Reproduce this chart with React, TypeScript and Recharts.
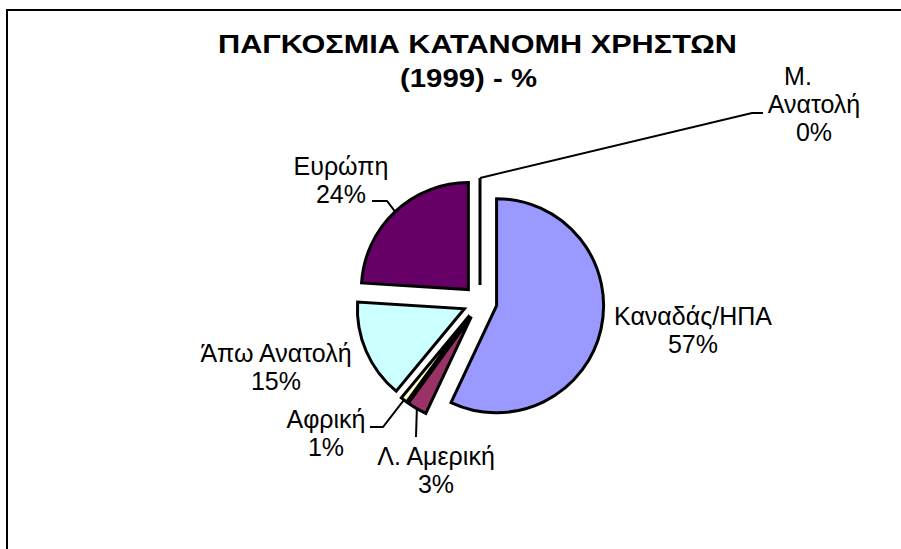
import React from "react";
import { Pie, PieChart, Sector } from "recharts";

// slices in the order Excel draws them, clockwise from 12 o'clock
const regions = ["Καναδάς/ΗΠΑ", "Λ. Αμερική", "Αφρική", "Άπω Ανατολή", "Ευρώπη", "Μ. Ανατολή"];
const shares = [57, 3, 1, 15, 24, 0];
const sliceColors = ["#9999FF", "#993366", "#FFFFCC", "#CCFFFF", "#660066", "#FF8080"];
const labelLines = [["Καναδάς/ΗΠΑ"], ["Λ. Αμερική"], ["Αφρική"], ["Άπω Ανατολή"], ["Ευρώπη"], ["Μ.", "Ανατολή"]];
const titleLines = ["ΠΑΓΚΟΣΜΙΑ ΚΑΤΑΝΟΜΗ ΧΡΗΣΤΩΝ", "(1999) - %"];

// label placement (centre x, first baseline) and leader elbows, as dragged in the original
const labelLayout = [
  { x: 693, y: 325, dx: [0] },
  { x: 436, y: 465, dx: [0] },
  { x: 326, y: 428, dx: [0] },
  { x: 276, y: 362, dx: [0] },
  { x: 341, y: 175, dx: [0] },
  { x: 814, y: 85, dx: [-16, 0] },
];
const leaderElbows: number[][][] = [
  [],
  [[416, 437]],
  [[383, 427], [370, 427]],
  [],
  [[387, 201], [372, 201]],
  [[752, 113], [763, 113]],
];

const RADIAN = Math.PI / 180;
const EXPLODE = 17;
const FONT = "'Liberation Sans', Arial, sans-serif";
const LINE_GAP = 28;

const data = regions.map((name, i) => ({ name, value: shares[i], fill: sliceColors[i] }));

function offset(midAngle: number, r: number) {
  return { x: r * Math.cos(-midAngle * RADIAN), y: r * Math.sin(-midAngle * RADIAN) };
}

function ExplodedSlice(props: any) {
  const { cx, cy, innerRadius, outerRadius, startAngle, endAngle, midAngle, fill } = props;
  const d = offset(midAngle, EXPLODE);
  const ox = cx + d.x;
  const oy = cy + d.y;
  if (Math.abs(endAngle - startAngle) < 1e-6) {
    const e = offset(midAngle, outerRadius);
    return <line x1={ox} y1={oy} x2={ox + e.x} y2={oy + e.y} stroke="#000" strokeWidth={3} />;
  }
  return (
    <Sector
      cx={ox}
      cy={oy}
      innerRadius={innerRadius}
      outerRadius={outerRadius}
      startAngle={startAngle}
      endAngle={endAngle}
      fill={fill}
      stroke="#000"
      strokeWidth={3}
      strokeLinejoin="miter"
    />
  );
}

function SliceLabel(props: any) {
  const { cx, cy, outerRadius, midAngle, index, value } = props;
  const d = offset(midAngle, EXPLODE);
  const e = offset(midAngle, outerRadius);
  const start = [cx + d.x + e.x, cy + d.y + e.y];
  const elbows = leaderElbows[index];
  const pos = labelLayout[index];
  const lines = [...labelLines[index], `${value}%`];
  return (
    <g>
      {elbows.length > 0 && (
        <polyline
          points={[start, ...elbows].map((p) => p.join(",")).join(" ")}
          fill="none"
          stroke="#000"
          strokeWidth={2}
        />
      )}
      {lines.map((t, k) => (
        <text
          key={k}
          x={pos.x + (pos.dx[k] ?? 0)}
          y={pos.y + k * LINE_GAP}
          textAnchor="middle"
          fontFamily={FONT}
          fontSize={25}
          fill="#000"
        >
          {t}
        </text>
      ))}
    </g>
  );
}

export default function App() {
  return (
    <div style={{ position: "absolute", left: 0, top: 0, width: 901, height: 549, overflow: "hidden", background: "#fff" }}>
      <svg width={901} height={549} style={{ position: "absolute", left: 0, top: 0 }}>
        <line x1={6} y1={10} x2={901} y2={10} stroke="#000" strokeWidth={2} />
        <line x1={7} y1={9} x2={7} y2={549} stroke="#000" strokeWidth={2} />
      </svg>
      <div style={{ position: "absolute", left: 0, top: 0 }}>
        <PieChart width={901} height={549} margin={{ top: 0, right: 0, bottom: 0, left: 0 }}>
          <Pie
            data={data}
            dataKey="value"
            nameKey="name"
            cx={480}
            cy={302}
            outerRadius={107}
            startAngle={90}
            endAngle={-270}
            stroke="#000"
            strokeWidth={3}
            shape={ExplodedSlice}
            label={SliceLabel}
            labelLine={false}
            isAnimationActive={false}
          />
        </PieChart>
      </div>
      <svg width={901} height={549} style={{ position: "absolute", left: 0, top: 0, pointerEvents: "none" }}>
        <text
          x={477.5}
          y={53}
          textAnchor="middle"
          fontFamily={FONT}
          fontWeight="bold"
          fontSize={25}
          textLength={519}
          lengthAdjust="spacingAndGlyphs"
          fill="#000"
        >
          {titleLines[0]}
        </text>
        <text
          x={468.5}
          y={87}
          textAnchor="middle"
          fontFamily={FONT}
          fontWeight="bold"
          fontSize={25}
          textLength={137}
          lengthAdjust="spacingAndGlyphs"
          fill="#000"
        >
          {titleLines[1]}
        </text>
      </svg>
    </div>
  );
}
